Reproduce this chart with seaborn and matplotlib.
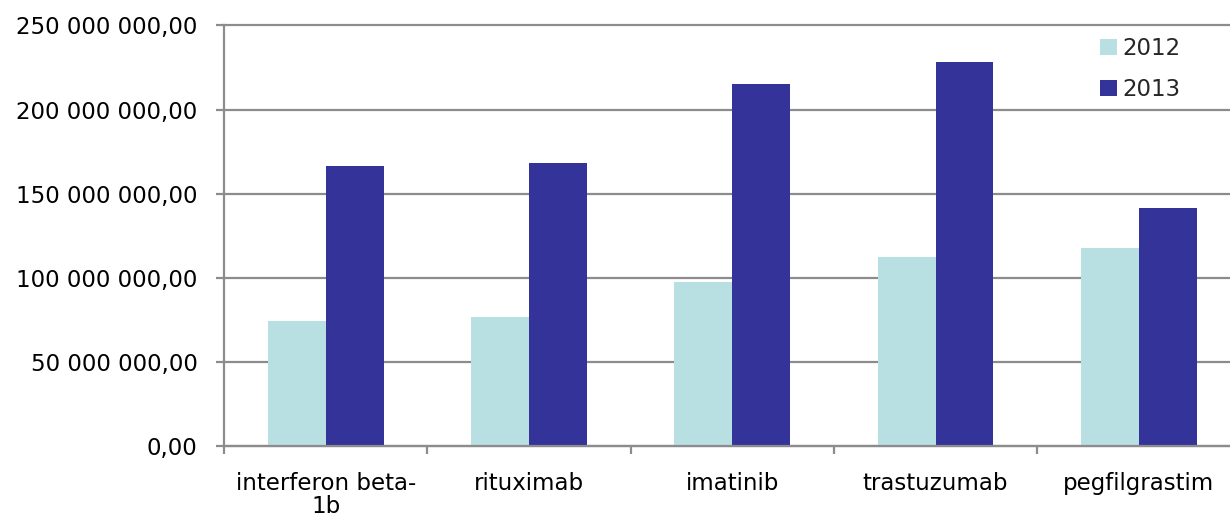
import matplotlib
matplotlib.use("Agg")
import matplotlib.pyplot as plt
import seaborn as sns
import pandas as pd
from matplotlib.ticker import FuncFormatter, FixedLocator

# Sales by active substance, two years
substances = ["interferon beta-\n1b", "rituximab", "imatinib", "trastuzumab", "pegfilgrastim"]
years = ["2012", "2013"]
values_2012 = [74_400_000, 76_600_000, 97_300_000, 112_100_000, 117_700_000]
values_2013 = [166_500_000, 168_100_000, 215_100_000, 228_200_000, 141_500_000]
y_ticks = [0, 50_000_000, 100_000_000, 150_000_000, 200_000_000, 250_000_000]

colors = {"2012": "#B8DFE2", "2013": "#343399"}
grid_gray = "#8C8C8C"

df = pd.DataFrame({
    "substance": substances * 2,
    "year": [years[0]] * len(substances) + [years[1]] * len(substances),
    "value": values_2012 + values_2013,
})

sns.set_theme(style="white")
plt.rcParams["font.family"] = ["DejaVu Sans"]

fig = plt.figure(figsize=(12.3, 5.23), dpi=100)
ax = fig.add_axes([224 / 1230, 77.3 / 523, (1240.5 - 224) / 1230, (445.7 - 25.5) / 523])

sns.barplot(data=df, x="substance", y="value", hue="year", order=substances,
            hue_order=years, palette=colors, width=0.57, gap=0,
            saturation=1, edgecolor="none", linewidth=0, ax=ax, zorder=3)

ax.set_xlim(-0.5, len(substances) - 0.5)
ax.set_ylim(0, 250_000_000)
ax.set_yticks(y_ticks)


def fmt(v, _):
    s = f"{int(round(v)):,}".replace(",", " ")
    return s + ",00"


ax.yaxis.set_major_formatter(FuncFormatter(fmt))
ax.yaxis.grid(True, color=grid_gray, linewidth=1.6, zorder=0)
ax.xaxis.grid(False)
ax.set_axisbelow(True)
for gl in ax.get_ygridlines():
    gl.set_clip_on(False)

for side in ["top", "right"]:
    ax.spines[side].set_visible(False)
for side in ["left", "bottom"]:
    ax.spines[side].set_color(grid_gray)
    ax.spines[side].set_linewidth(1.6)
    ax.spines[side].set_zorder(4)

# category separators below the axis, labels centred between them
ax.xaxis.set_minor_locator(FixedLocator([i - 0.5 for i in range(len(substances) + 1)]))
ax.tick_params(axis="x", which="minor", length=6, width=1.6, color=grid_gray, direction="out", bottom=True)
ax.tick_params(axis="x", which="major", length=0, pad=19, labelsize=16.5, labelcolor="black")
ax.tick_params(axis="y", which="major", length=6, width=1.6, color=grid_gray, direction="out", left=True,
               pad=13, labelsize=16.5, labelcolor="black")
for lab in ax.get_xticklabels():
    lab.set_horizontalalignment("center")
    lab.set_linespacing(1.0)

ax.set_xlabel("")
ax.set_ylabel("")

leg = ax.legend(loc="upper left", bbox_to_anchor=((1089 - 224) / (1240.5 - 224), 0.999),
                frameon=False, fontsize=16.5, handlelength=0.7, handleheight=0.7,
                handletextpad=0.25, labelspacing=0.75, borderpad=0)

fig.savefig("out.png", dpi=100, facecolor="white")
